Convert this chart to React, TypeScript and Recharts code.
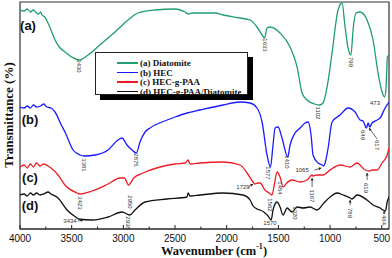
import React from 'react';
import {
  ComposedChart,
  Line,
  XAxis,
  YAxis,
  ReferenceArea,
  ReferenceDot,
  ReferenceLine,
} from 'recharts';

// FTIR spectra: [wavenumber (cm-1), transmittance (a.u., offset per trace)]
const diatomite: [number, number][] = [
  [4000, 109.5], [3960, 109], [3930, 110], [3900, 108.5], [3870, 109.5], [3850, 108.5],
  [3820, 107.5], [3800, 108.5], [3787, 107], [3760, 106], [3729, 103], [3700, 99.5],
  [3661, 94.5], [3620, 91], [3565, 88.5], [3500, 86], [3430, 84.5], [3340, 87],
  [3206, 93], [3081, 98.5], [2955, 104.5], [2860, 108], [2694, 109.5], [2500, 110],
  [2403, 108.5], [2370, 107.5], [2336, 108], [2113, 108], [2036, 107], [1871, 105.5],
  [1774, 104.5], [1707, 101], [1658, 97], [1633, 95.5], [1610, 100.5], [1581, 101],
  [1484, 98], [1387, 91], [1319, 81], [1271, 68], [1223, 64.5], [1150, 62.5],
  [1102, 62], [1068, 63], [1029, 71], [981, 88], [923, 109.5], [884, 113],
  [855, 101], [826, 90.5], [799, 87], [775, 101], [750, 108], [710, 108.5],
  [642, 104.5], [584, 94.5], [536, 78], [497, 68.5], [473, 66], [460, 69.5],
  [445, 86], [430, 87],
];

const hec: [number, number][] = [
  [4000, 61], [3960, 60.5], [3930, 61.5], [3900, 60.5], [3870, 62], [3840, 61],
  [3800, 61.5], [3770, 62.5], [3740, 61], [3700, 60.5], [3661, 58.5], [3600, 52],
  [3565, 48.5], [3487, 39.5], [3419, 37], [3381, 36.5], [3274, 37], [3148, 39.5],
  [3052, 44.5], [3013, 45.5], [2965, 42], [2916, 39.5], [2875, 38], [2839, 43.5],
  [2790, 48.5], [2742, 50.5], [2577, 54.5], [2500, 56], [2384, 58], [2258, 59.5],
  [2036, 62], [1871, 63.5], [1774, 63], [1707, 60.5], [1658, 53.5], [1610, 37],
  [1577, 31], [1552, 42], [1532, 50.5], [1503, 51], [1465, 45.5], [1410, 36],
  [1387, 42], [1339, 48], [1290, 50.5], [1242, 53], [1213, 53.5], [1184, 47],
  [1165, 37], [1116, 33], [1077, 32], [1065, 31.5], [1048, 33], [1019, 40.5],
  [981, 53.5], [903, 57], [826, 60.5], [758, 58.5], [710, 54.5], [681, 54],
  [649, 50.5], [632, 53], [617, 51], [594, 53], [545, 54.5], [516, 55.5],
  [468, 60.5], [430, 63.5],
];

const hecPaa: [number, number][] = [
  [4000, 31], [3960, 32], [3930, 30.5], [3900, 32.5], [3870, 31], [3840, 33],
  [3806, 31.5], [3770, 32.5], [3729, 31.5], [3700, 30.5], [3632, 27], [3565, 22],
  [3448, 18], [3423, 17.5], [3303, 19], [3148, 22.5], [3032, 25.5], [2990, 25.5],
  [2950, 22], [2900, 25.5], [2810, 28], [2645, 31], [2500, 32.5], [2400, 33],
  [2374, 34.5], [2355, 32.5], [2258, 33], [2036, 33.5], [1871, 32], [1803, 28],
  [1745, 23.5], [1729, 22.5], [1700, 23], [1677, 23], [1630, 19.5], [1590, 18],
  [1562, 17], [1540, 22], [1513, 28.5], [1484, 26], [1454, 21], [1420, 23],
  [1368, 24.5], [1290, 23.5], [1223, 24.5], [1174, 27], [1167, 26.5], [1126, 27],
  [1068, 27], [1000, 29.5], [903, 32], [806, 31], [739, 33], [661, 29.5],
  [619, 29], [594, 29.5], [545, 29.5], [497, 33], [448, 37], [430, 40.5],
];

const hecPaaDiatomite: [number, number][] = [
  [4000, 17], [3960, 17.5], [3930, 16.5], [3900, 18], [3870, 17], [3840, 18],
  [3806, 17], [3770, 17.5], [3729, 18.5], [3700, 17.5], [3632, 15.5], [3545, 9.5],
  [3448, 5.5], [3434, 5], [3303, 4.5], [3148, 6], [3013, 8.5], [2938, 7],
  [2887, 9.5], [2790, 13.5], [2577, 15], [2384, 16], [2374, 18], [2355, 16.5],
  [2258, 17], [2036, 18], [1842, 17], [1774, 14.5], [1745, 11.5], [1707, 10],
  [1677, 9.5], [1629, 8], [1600, 6.5], [1570, 4.5], [1552, 9.5], [1513, 13.5],
  [1484, 11], [1455, 7], [1416, 10.5], [1368, 8.5], [1319, 11], [1261, 10.5],
  [1194, 11], [1126, 9.5], [1060, 13], [1000, 16], [932, 18], [874, 17],
  [806, 15.5], [789, 15], [739, 17], [642, 14.5], [584, 12], [516, 10.5],
  [487, 9.5], [464, 9], [448, 13.5], [430, 16],
];

const seriesNames = ['(a) Diatomite', '(b) HEC', '(c) HEC-g-PAA', '(d) HEC-g-PAA/Diatomite'];
const seriesColors = ['#1f9e6e', '#1a1aff', '#ee1c25', '#111111'];
const seriesData = [diatomite, hec, hecPaa, hecPaaDiatomite];
const traceTags = ['(a)', '(b)', '(c)', '(d)'];

// peak labels: [text, wavenumber, transmittance, vertical]
const peakLabels: [string, number, number, boolean][] = [
  ['3430', 3430, 81.5, true],
  ['1633', 1633, 92, true],
  ['799', 800, 83.5, true],
  ['1102', 1116, 58, true],
  ['473', 565, 63, false],
  ['3381', 3381, 32, true],
  ['2875', 2877, 34.5, true],
  ['1577', 1600, 28, true],
  ['1410', 1416, 33.5, true],
  ['1065', 1271, 29.5, false],
  ['649', 681, 47, true],
  ['617', 545, 42, true],
  ['3423', 3419, 13, true],
  ['2950', 2936, 13.5, true],
  ['1729', 1842, 21, false],
  ['1562', 1581, 12, true],
  ['1454', 1484, 20.5, true],
  ['1167', 1174, 16.5, true],
  ['619', 652, 20.5, true],
  ['3434', 3516, 4, false],
  ['2938', 2955, 3, true],
  ['1570', 1581, 3, false],
  ['1320', 1339, 8, true],
  ['789', 806, 8, true],
  ['464', 477, 4.5, true],
];

// arrows: [fromWn, fromT, toWn, toT]
const arrows: [number, number, number, number][] = [
  [1150, 29.5, 1085, 30.5],
  [545, 45, 623, 50.5],
  [1174, 21, 1174, 25.5],
  [642, 24.5, 642, 28],
  [806, 12, 806, 14.5],
  [477, 7.5, 477, 9],
  [1790, 21, 1745, 22.5],
  [3440, 4, 3390, 4.5],
];

const xTicks = [500, 750, 1000, 1250, 1500, 1750, 2000, 2250, 2500, 2750, 3000, 3250, 3500, 3750, 4000];

const serif = '"Liberation Serif", "Times New Roman", serif';
const sans = '"Liberation Sans", Arial, sans-serif';

const AxisTick = (props: any) => {
  const { x, y, payload } = props;
  const major = payload.value % 500 === 0;
  return (
    <g>
      <line x1={x} x2={x} y1={y} y2={y - (major ? 4 : 2.5)} stroke="#222" strokeWidth={1} />
      {major && (
        <text x={x} y={y + 12.5} textAnchor="middle" fontSize={10} fontFamily={sans} fill="#111">
          {payload.value}
        </text>
      )}
    </g>
  );
};

const Arrow = (props: any) => {
  const { x1, y1, x2, y2 } = props;
  if ([x1, y1, x2, y2].some((v) => v === undefined || isNaN(v))) return <g />;
  const a = Math.atan2(y2 - y1, x2 - x1);
  const s = 2.5;
  const p1 = `${x2},${y2}`;
  const p2 = `${x2 - s * Math.cos(a) + s * 0.6 * Math.sin(a)},${y2 - s * Math.sin(a) - s * 0.6 * Math.cos(a)}`;
  const p3 = `${x2 - s * Math.cos(a) - s * 0.6 * Math.sin(a)},${y2 - s * Math.sin(a) + s * 0.6 * Math.cos(a)}`;
  return (
    <g>
      <line x1={x1} y1={y1} x2={x2} y2={y2} stroke="#222" strokeWidth={0.7} />
      <polygon points={`${p1} ${p2} ${p3}`} fill="#222" />
    </g>
  );
};

export default function App() {
  return (
    <div style={{ position: 'absolute', left: 0, top: 0, width: 392, height: 258, background: '#fff' }}>
      <ComposedChart width={392} height={258} margin={{ top: 2, right: 3, left: 20, bottom: 0 }}>
        <XAxis
          dataKey="wn"
          type="number"
          domain={[430, 4000]}
          reversed
          allowDataOverflow
          ticks={xTicks}
          interval={0}
          height={29}
          tickSize={0}
          tickMargin={0}
          tick={<AxisTick />}
          axisLine={{ stroke: '#222', strokeWidth: 1.2 }}
        />
        <YAxis hide type="number" domain={[0, 113.5]} allowDataOverflow />
        <ReferenceArea x1={430} x2={4000} y1={0} y2={113.5} fill="none" stroke="#333" strokeWidth={1.2} />
        {seriesData.map((arr, i) => (
          <Line
            key={seriesNames[i]}
            data={arr.map(([wn, t]) => ({ wn, t }))}
            dataKey="t"
            name={seriesNames[i]}
            type="monotone"
            stroke={seriesColors[i]}
            strokeWidth={1.3}
            dot={false}
            isAnimationActive={false}
          />
        ))}
        {arrows.map(([a, b, c, d], i) => (
          <ReferenceLine
            key={'ar' + i}
            segment={[{ x: a, y: b }, { x: c, y: d }]}
            shape={(p: any) => <Arrow {...p} />}
          />
        ))}
        {peakLabels.map(([text, wn, t, vertical]) => (
          <ReferenceDot
            key={text + wn}
            x={wn}
            y={t}
            r={0}
            shape={(p: any) => (
              <text
                x={p.cx}
                y={p.cy}
                fontSize={6}
                fontFamily={sans}
                fill="#333"
                textAnchor="middle"
                dominantBaseline="central"
                transform={vertical ? `rotate(90 ${p.cx} ${p.cy})` : undefined}
              >
                {text}
              </text>
            )}
          />
        ))}
      </ComposedChart>

      {/* trace tags */}
      {traceTags.map((tag, i) => (
        <div
          key={tag}
          style={{
            position: 'absolute',
            left: [28, 30, 30, 30][i],
            top: [25, 119, 177, 205][i],
            transform: 'translate(-50%, -50%)',
            font: `bold 13px ${sans}`,
            color: '#111',
          }}
        >
          {tag}
        </div>
      ))}

      {/* legend */}
      <div
        style={{
          position: 'absolute',
          left: 95,
          top: 52,
          width: 153,
          height: 43,
          background: '#fff',
          border: '1px solid #222',
          boxShadow: '5px 5px 0 #000',
          boxSizing: 'border-box',
        }}
      >
        {seriesNames.map((name, i) => (
          <div
            key={name}
            style={{
              position: 'absolute',
              left: 21,
              top: 5 + i * 9.5,
              height: 10,
              display: 'flex',
              alignItems: 'center',
              whiteSpace: 'nowrap',
            }}
          >
            <span style={{ display: 'inline-block', width: 21, height: 1.5, background: seriesColors[i], marginRight: 2 }} />
            <span style={{ font: `bold 9px ${serif}`, color: '#111' }}>{name}</span>
          </div>
        ))}
      </div>

      {/* axis titles */}
      <div
        style={{
          position: 'absolute',
          left: 9,
          top: 115,
          transform: 'translate(-50%, -50%) rotate(-90deg)',
          font: `bold 13px ${serif}`,
          color: '#111',
          whiteSpace: 'nowrap',
        }}
      >
        Transmittance (%)
      </div>
      <div
        style={{
          position: 'absolute',
          left: 214,
          top: 251,
          transform: 'translate(-50%, -50%)',
          font: `bold 12.5px ${serif}`,
          color: '#111',
          whiteSpace: 'nowrap',
        }}
      >
        Wavenumber (cm<sup style={{ fontSize: 8, verticalAlign: 'super', lineHeight: 0 }}>-1</sup>)
      </div>
    </div>
  );
}
